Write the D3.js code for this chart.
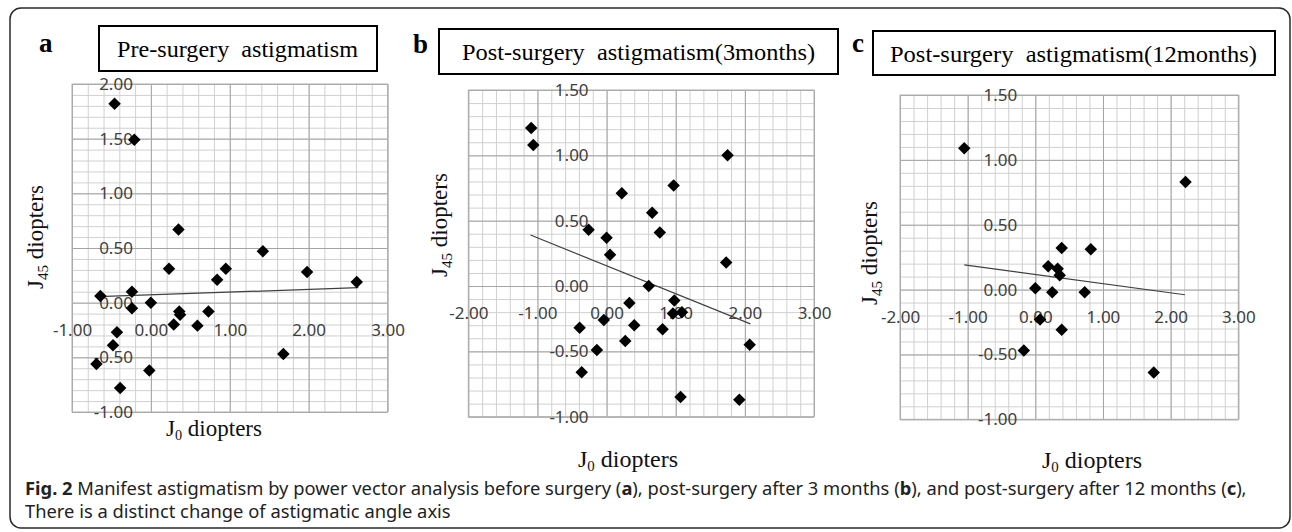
<!DOCTYPE html>
<html>
<head>
<meta charset="utf-8">
<script src="https://cdn.jsdelivr.net/npm/d3@7"></script>
<style>
  body { margin: 0; background: #fff; }
  svg { display: block; }
</style>
</head>
<body>
<div id="chart"></div>
<script>
// values (J0, J45 in diopters)
const preJ0  = [-0.46, -0.21, 0.35, 1.42, 0.23, 0.95, 0.84, 1.98, 2.61, -0.64, -0.24, -0.24, 0.00, 0.36, 0.37, 0.73, 0.29, 0.59, -0.43, -0.48, -0.69, -0.02, -0.39, 1.68];
const preJ45 = [1.82, 1.49, 0.67, 0.47, 0.31, 0.31, 0.21, 0.28, 0.19, 0.06, 0.10, -0.05, 0.00, -0.08, -0.11, -0.08, -0.20, -0.21, -0.27, -0.39, -0.56, -0.62, -0.78, -0.47];
const preTrend = [[-0.67, 0.055], [2.63, 0.137]];

const m3J0  = [-1.09, -1.06, 1.75, 0.22, 0.97, 0.66, 0.77, -0.26, 0.00, 0.05, 1.73, 0.61, 0.33, 0.98, 0.96, 1.09, -0.04, 0.40, -0.39, 0.81, 0.27, -0.14, 2.07, -0.36, 1.07, 1.92];
const m3J45 = [1.21, 1.08, 1.00, 0.71, 0.77, 0.56, 0.41, 0.43, 0.37, 0.24, 0.18, 0.00, -0.13, -0.11, -0.21, -0.20, -0.26, -0.30, -0.32, -0.33, -0.42, -0.49, -0.45, -0.66, -0.85, -0.87];
const m3Trend = [[-1.10, 0.39], [2.08, -0.29]];

const m12J0  = [-1.05, 2.22, 0.39, 0.82, 0.19, 0.33, 0.36, 0.00, 0.25, 0.73, 0.07, 0.39, -0.17, 1.75];
const m12J45 = [1.09, 0.83, 0.32, 0.31, 0.18, 0.16, 0.11, 0.01, -0.02, -0.02, -0.23, -0.31, -0.47, -0.64];
const m12Trend = [[-1.05, 0.19], [2.21, -0.04]];

const xTicksA = [-1, 0, 1, 2, 3];
const yTicksA = [-1, -0.5, 0, 0.5, 1, 1.5, 2];
const xTicksBC = [-2, -1, 0, 1, 2, 3];
const yTicksBC = [-1, -0.5, 0, 0.5, 1, 1.5];

const letters = ["a", "b", "c"];
const titles = ["Pre-surgery  astigmatism", "Post-surgery  astigmatism(3months)", "Post-surgery  astigmatism(12months)"];
const captionBold = "Fig. 2";
const captionLine1 = " Manifest astigmatism by power vector analysis before surgery (";
const captionLine2 = "There is a distinct change of astigmatic angle axis";

const W = 1292, H = 532;
const svg = d3.select("#chart").append("svg").attr("width", W).attr("height", H);

// outer rounded frame
svg.append("rect")
  .attr("x", 10).attr("y", 8).attr("width", 1280).attr("height", 520)
  .attr("rx", 11)
  .attr("fill", "none").attr("stroke", "#2a2a2a").attr("stroke-width", 1.5);

// layout of each panel
const panels = [
  { j0: preJ0, j45: preJ45, trend: preTrend, xTicks: xTicksA, yTicks: yTicksA,
    xDom: [-1, 3], yDom: [-1, 2], xr: [72, 387.5], yr: [412, 84],
    box: [99, 26, 278, 45], tx: 117, ty: 57, tw: 241, lx: 39, ly: 52,
    ylab: [43, 237], xlab: [214, 436], xfs: 23 },
  { j0: m3J0, j45: m3J45, trend: m3Trend, xTicks: xTicksBC, yTicks: yTicksBC,
    xDom: [-2, 3], yDom: [-1, 1.5], xr: [468.3, 814], yr: [416.7, 90],
    box: [439, 29, 399, 45], tx: 462, ty: 60, tw: 353, lx: 413, ly: 53,
    ylab: [447, 225], xlab: [628, 467], xfs: 24 },
  { j0: m12J0, j45: m12J45, trend: m12Trend, xTicks: xTicksBC, yTicks: yTicksBC,
    xDom: [-2, 3], yDom: [-1, 1.5], xr: [900, 1238.3], yr: [419.3, 95],
    box: [873, 31, 402, 44], tx: 890, ty: 62, tw: 367, lx: 852, ly: 52,
    ylab: [877, 253], xlab: [1092, 468], xfs: 24 }
];

const serif = "'Liberation Serif', 'Times New Roman', serif";
const sans = "'Noto Sans', 'DejaVu Sans', sans-serif";

panels.forEach((p, i) => {
  const x = d3.scaleLinear().domain(p.xDom).range(p.xr);
  const y = d3.scaleLinear().domain(p.yDom).range(p.yr);
  const g = svg.append("g");
  const top = p.yr[1], bottom = p.yr[0], left = p.xr[0], right = p.xr[1];

  // minor grid
  const minor = g.append("g").attr("class", "minor");
  minor.append("g").attr("transform", `translate(0,${bottom})`)
    .call(d3.axisBottom(x).ticks((p.xDom[1] - p.xDom[0]) * 5).tickSize(-(bottom - top)).tickFormat(""));
  minor.append("g").attr("transform", `translate(${left},0)`)
    .call(d3.axisLeft(y).ticks((p.yDom[1] - p.yDom[0]) * 10).tickSize(-(right - left)).tickFormat(""));
  minor.selectAll("line").attr("stroke", "#d0d0d0").attr("stroke-width", 1);
  minor.selectAll(".domain").remove();

  // major grid
  const major = g.append("g").attr("class", "major");
  major.append("g").attr("transform", `translate(0,${bottom})`)
    .call(d3.axisBottom(x).tickValues(p.xTicks).tickSize(-(bottom - top)).tickFormat(""));
  major.append("g").attr("transform", `translate(${left},0)`)
    .call(d3.axisLeft(y).tickValues(p.yTicks).tickSize(-(right - left)).tickFormat(""));
  major.selectAll("line").attr("stroke", "#a4a4a4").attr("stroke-width", 1);
  major.selectAll(".domain").remove();

  // frame of plot area
  g.append("rect").attr("x", left).attr("y", top)
    .attr("width", right - left).attr("height", bottom - top)
    .attr("fill", "none").attr("stroke", "#b0b0b0");

  // tick labels on the axes crossing at zero
  const xAx = g.append("g").attr("transform", `translate(0,${y(0)})`)
    .call(d3.axisBottom(x).tickValues(p.xTicks).tickSize(0).tickPadding(21));
  const yAx = g.append("g").attr("transform", `translate(${x(0)},0)`)
    .call(d3.axisLeft(y).tickValues(p.yTicks).tickSize(0).tickPadding(18));
  [xAx, yAx].forEach(a => {
    a.select(".domain").remove();
    a.selectAll("text")
      .attr("font-family", sans).attr("font-size", 17).attr("fill", "#404040")
      .text(d => d.toFixed(2));
  });

  // trend line
  g.append("line")
    .attr("x1", x(p.trend[0][0])).attr("y1", y(p.trend[0][1]))
    .attr("x2", x(p.trend[1][0])).attr("y2", y(p.trend[1][1]))
    .attr("stroke", "#404040").attr("stroke-width", 1.2);

  // diamond markers
  const sym = d3.symbol(d3.symbolSquare, 78);
  g.append("g").selectAll("path")
    .data(p.j0.map((v, k) => [v, p.j45[k]]))
    .enter().append("path")
    .attr("d", sym)
    .attr("transform", d => `translate(${x(d[0])},${y(d[1])}) rotate(45)`)
    .attr("fill", "#000");

  // title box
  g.append("rect").attr("x", p.box[0]).attr("y", p.box[1])
    .attr("width", p.box[2]).attr("height", p.box[3])
    .attr("fill", "#fff").attr("stroke", "#000").attr("stroke-width", 2);
  g.append("text").attr("x", p.tx).attr("y", p.ty)
    .attr("font-family", serif).attr("font-size", 24)
    .attr("textLength", p.tw).attr("lengthAdjust", "spacingAndGlyphs")
    .style("white-space", "pre")
    .text(titles[i]);

  // panel letter
  g.append("text").attr("x", p.lx).attr("y", p.ly)
    .attr("font-family", serif).attr("font-weight", "bold").attr("font-size", 27)
    .text(letters[i]);

  // y axis title
  const yt = g.append("text")
    .attr("transform", `translate(${p.ylab[0]},${p.ylab[1]}) rotate(-90)`)
    .attr("text-anchor", "middle")
    .attr("font-family", serif).attr("font-size", 23).attr("fill", "#111");
  yt.append("tspan").text("J");
  yt.append("tspan").attr("font-size", 15).attr("dy", 5).text("45");
  yt.append("tspan").attr("dy", -5).text(" diopters");

  // x axis title
  const xt = g.append("text")
    .attr("x", p.xlab[0]).attr("y", p.xlab[1])
    .attr("text-anchor", "middle")
    .attr("font-family", serif).attr("font-size", p.xfs).attr("fill", "#111");
  xt.append("tspan").text("J");
  xt.append("tspan").attr("font-size", p.xfs * 0.62).attr("dy", 4).text("0");
  xt.append("tspan").attr("dy", -4).text(" diopters");
});

// caption
const cap1 = svg.append("text").attr("x", 25).attr("y", 495)
  .attr("font-family", sans).attr("font-size", 16).attr("fill", "#222");
cap1.append("tspan").attr("font-weight", "bold").text(captionBold);
cap1.append("tspan").text(captionLine1);
cap1.append("tspan").attr("font-weight", "bold").text("a");
cap1.append("tspan").text("), post-surgery after 3 months (");
cap1.append("tspan").attr("font-weight", "bold").text("b");
cap1.append("tspan").text("), and post-surgery after 12 months (");
cap1.append("tspan").attr("font-weight", "bold").text("c");
cap1.append("tspan").text("),");
const cap2 = svg.append("text").attr("x", 25).attr("y", 518)
  .attr("font-family", sans).attr("font-size", 16).attr("fill", "#222")
  .text(captionLine2);

// fit caption to the width it takes in the figure
const len = cap1.node().getComputedTextLength();
const fs = 16 * 1222 / len;
cap1.attr("font-size", fs);
cap2.attr("font-size", fs);
</script>
</body>
</html>
